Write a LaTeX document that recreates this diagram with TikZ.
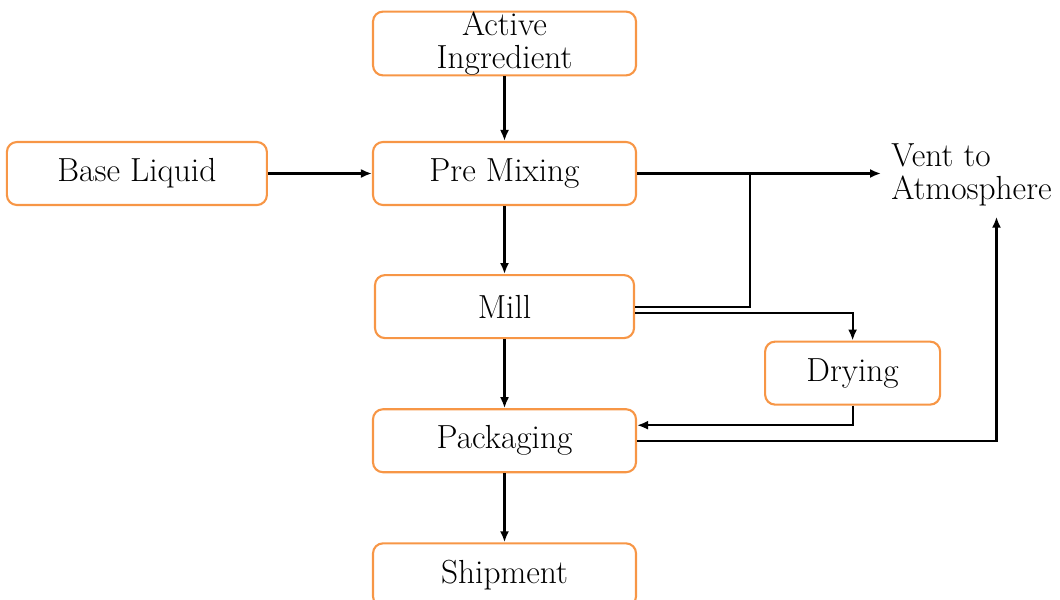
\documentclass[tikz,border=0pt]{standalone}
\usepackage{xcolor}
\usepackage{tikz}
\usetikzlibrary{shapes.geometric, arrows, arrows.meta, positioning, calc}
\definecolor{boxorange}{RGB}{247,150,70}

\begin{document}
\begin{tikzpicture}[node distance=1.36cm, auto, >={Latex[length=0.22cm,width=0.18cm]}]
        \tikzstyle{state} = [rectangle, rounded corners=0.2cm, minimum width=5.26cm, minimum height=1.26cm, text centered, align=center, draw=boxorange, line width=1.2pt, font=\fontsize{19}{19}\selectfont]
        \tikzstyle{arrow} = [line width=1.2pt,->]
        \tikzstyle{line} = [line width=1.2pt]
        \tikzstyle{label} = [align=left, inner sep=0.2cm, font=\fontsize{19}{19}\selectfont]

        \useasboundingbox (0,0) rectangle (21.2,-11.98);

        % Main line
        \node (premix) [state] at (10.09,-3.47) {Pre Mixing};
        \node (active) [state, above=1.29cm of premix, inner ysep=0pt] {Active\\Ingredient};
        \node (base) [state, left=2.08cm of premix, minimum width=5.2cm] {Base Liquid};
        \node (mill) [state, below=1.36cm of premix, minimum width=5.18cm] {Mill};
        \node (pack) [state, below=1.38cm of mill] {Packaging};
        \node (ship) [state, below=1.38cm of pack] {Shipment};

        % Side branch
        \node (drying) [state, right=2.58cm of mill, yshift=-1.33cm, minimum width=3.5cm] {Drying};
        \node (vent) [label, anchor=west] at (17.62,-3.5) {Vent to\\Atmosphere};
        \coordinate (join) at (15.0,-3.47);

        % Arrows
        \draw [arrow] (active) -- (premix);
        \draw [arrow] (base) -- (premix);
        \draw [arrow] (premix.east) -- (premix.east -| vent.west);
        \draw [arrow] (premix) -- (mill);
        \draw [arrow] (mill) -- (pack);
        \draw [arrow] (pack) -- (ship);
        \draw [line] (mill.east) -| (join);
        \draw [arrow] ([yshift=-0.12cm]mill.east) -| (drying.north);
        \draw [arrow] (drying.south) |- ([yshift=0.31cm]pack.east);
        \draw [arrow] (pack.east) -| ([xshift=0.5cm]vent.south);
    \end{tikzpicture}
\end{document}
